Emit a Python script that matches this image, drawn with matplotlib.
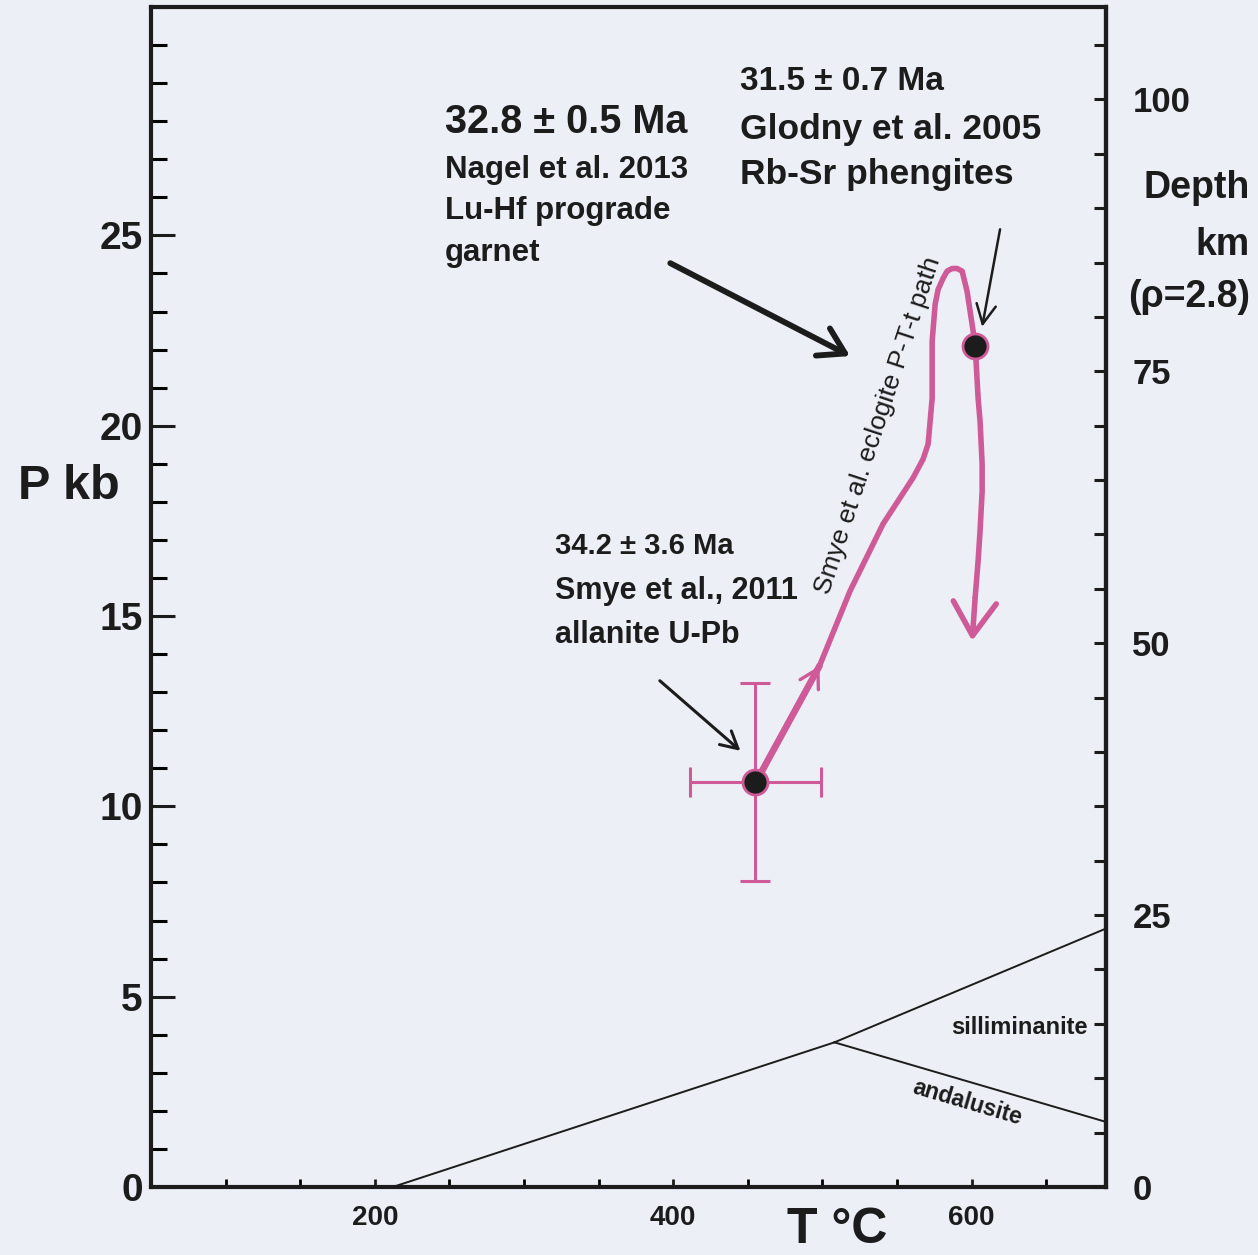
import matplotlib
matplotlib.use("Agg")
import matplotlib.pyplot as plt
from matplotlib.ticker import MultipleLocator, FixedLocator

plt.rcParams["font.family"] = ["Liberation Sans", "DejaVu Sans"]

BG = "#ECEFF6"
PINK = "#CF5A98"
INK = "#1C1C1C"

# Smye et al. eclogite P-T-t path (T in degC, P in kb)
path_T = [456, 498, 518.5, 540.6, 560.7, 567.4, 570.8, 573.5, 573.5, 575.5, 577.5, 580.8,
          583.5, 586.9, 590.2, 593.6, 596.9, 602.3, 604.3, 605.6, 607.0, 607.0, 605.6,
          604.3, 602.3, 600.3]
path_P = [10.68, 13.69, 15.66, 17.42, 18.63, 19.12, 19.52, 20.72, 22.22, 23.19, 23.58, 23.87,
          24.06, 24.13, 24.13, 24.06, 23.53, 22.14, 20.72, 20.12, 18.99, 18.28, 17.24,
          16.45, 15.48, 14.35]

# dated points
allanite_T, allanite_P = 455, 10.65
allanite_Terr, allanite_Perr = 44, 2.6
phengite_T, phengite_P = 602, 22.1

# Al2SiO5 triple point diagram
ky_and_T = [212, 508]
ky_and_P = [0.0, 3.8]
ky_sil_T = [508, 690]
ky_sil_P = [3.8, 6.79]
and_sil_T = [508, 690]
and_sil_P = [3.8, 1.71]

KM_PER_KB = 3.50  # depth conversion, rho = 2.8

fig = plt.figure(figsize=(12.58, 12.55), dpi=100, facecolor=BG)
ax = fig.add_axes([151 / 1258, 1 - 1187 / 1255, 955 / 1258, 1180 / 1255])
ax.set_facecolor(BG)
ax.set_xlim(50, 690)
ax.set_ylim(0, 31)

for sp in ax.spines.values():
    sp.set_linewidth(3)
    sp.set_color(INK)

# phase boundaries
for tt, pp in [(ky_and_T, ky_and_P), (ky_sil_T, ky_sil_P), (and_sil_T, and_sil_P)]:
    ax.plot(tt, pp, color=INK, lw=1.4, zorder=2)

ax.text(632, 4.2, "silliminanite", fontsize=17, fontweight="bold", color=INK,
        ha="center", va="center")
ax.text(597, 2.22, "andalusite", fontsize=16.5, fontweight="bold", color=INK,
        ha="center", va="center", rotation=-16.4, rotation_mode="anchor")

# error bars
ax.errorbar(allanite_T, allanite_P, xerr=allanite_Terr, yerr=allanite_Perr, fmt="none",
            ecolor=PINK, elinewidth=2.2, capsize=11, capthick=2.2, zorder=3)

# path
ax.plot(path_T[:-1], path_P[:-1], color=PINK, lw=4, solid_capstyle="round",
        solid_joinstyle="round", zorder=4)
ax.annotate("", xy=(path_T[1], path_P[1]), xytext=(path_T[0], path_P[0]),
            arrowprops=dict(arrowstyle="->,head_length=1.3,head_width=0.75", color=PINK,
                            lw=2.4, shrinkA=0, shrinkB=0, mutation_scale=10), zorder=4)
ax.plot(path_T[:2], path_P[:2], color=PINK, lw=4.8, solid_capstyle="round", zorder=4)
ax.annotate("", xy=(path_T[-1], path_P[-1]), xytext=(path_T[-2], path_P[-2]),
            arrowprops=dict(arrowstyle="->,head_length=2.4,head_width=1.55", color=PINK,
                            lw=4, shrinkA=0, shrinkB=0, mutation_scale=10), zorder=4)

ax.plot([allanite_T, phengite_T], [allanite_P, phengite_P], "o", ms=18, mfc=INK,
        mec=PINK, mew=2, ls="none", zorder=6)

ax.text(537, 20.0, "Smye et al. eclogite P-T-t path", fontsize=19, color=INK,
        rotation=71.7, rotation_mode="anchor", ha="center", va="center")

# annotations
ax.text(247, 27.70, "32.8 \u00b1 0.5 Ma", fontsize=28.5, fontweight="bold", color=INK)
for txt, yy in [("Nagel et al. 2013", 26.52), ("Lu-Hf prograde", 25.42), ("garnet", 24.32)]:
    ax.text(247, yy, txt, fontsize=22.5, fontweight="bold", color=INK)

ax.text(445, 28.83, "31.5 \u00b1 0.7 Ma", fontsize=24, fontweight="bold", color=INK)
for txt, yy in [("Glodny et al. 2005", 27.54), ("Rb-Sr phengites", 26.34)]:
    ax.text(445, yy, txt, fontsize=25.5, fontweight="bold", color=INK)

ax.text(321, 16.63, "34.2 \u00b1 3.6 Ma", fontsize=21, fontweight="bold", color=INK)
for txt, yy in [("Smye et al., 2011", 15.45), ("allanite U-Pb", 14.30)]:
    ax.text(321, yy, txt, fontsize=22, fontweight="bold", color=INK)

ax.annotate("", xy=(518.5, 21.83), xytext=(398, 24.27),
            arrowprops=dict(arrowstyle="->,head_length=1.8,head_width=1.1", color=INK,
                            lw=4.2, shrinkA=0, shrinkB=0, mutation_scale=10), zorder=7)
ax.annotate("", xy=(607, 22.6), xytext=(619, 25.16),
            arrowprops=dict(arrowstyle="->,head_length=1.4,head_width=0.7", color=INK,
                            lw=1.8, shrinkA=0, shrinkB=0, mutation_scale=10), zorder=7)
ax.annotate("", xy=(445, 11.46), xytext=(391, 13.3),
            arrowprops=dict(arrowstyle="->,head_length=1.2,head_width=0.65", color=INK,
                            lw=2.2, shrinkA=0, shrinkB=0, mutation_scale=10), zorder=7)

# ticks
ax.yaxis.set_major_locator(FixedLocator([0, 5, 10, 15, 20, 25]))
ax.yaxis.set_minor_locator(MultipleLocator(1))
ax.xaxis.set_major_locator(FixedLocator([200, 400, 600]))
ax.xaxis.set_minor_locator(MultipleLocator(50))
ax.tick_params(axis="y", which="major", direction="in", length=17, width=2.2, pad=6,
               labelsize=28, colors=INK, right=False)
ax.tick_params(axis="y", which="minor", direction="in", length=11.5, width=2.2, right=False)
ax.tick_params(axis="x", which="both", direction="in", length=6, width=2, top=False)
ax.tick_params(axis="x", which="major", pad=13, labelsize=20, colors=INK)
for lab in ax.get_xticklabels() + ax.get_yticklabels():
    lab.set_fontweight("bold")

sec = ax.secondary_yaxis("right", functions=(lambda p: p * KM_PER_KB, lambda d: d / KM_PER_KB))
sec.spines["right"].set_linewidth(3)
sec.spines["right"].set_color(INK)
sec.yaxis.set_major_locator(FixedLocator([0, 25, 50, 75, 100]))
sec.yaxis.set_minor_locator(MultipleLocator(5))
sec.tick_params(axis="y", which="both", direction="in", length=8.5, width=2.2, colors=INK)
sec.tick_params(axis="y", which="major", pad=19, labelsize=25)
for lab in sec.get_yticklabels():
    lab.set_fontweight("bold")

# axis titles
fig.text(69 / 1258, 1 - 487 / 1255, "P kb", fontsize=35, fontweight="bold", color=INK,
         ha="center", va="center")
fig.text(837 / 1258, 1 - 1243 / 1255, "T \u00b0C", fontsize=36, fontweight="bold", color=INK,
         ha="center", va="baseline")
fig.text(1250 / 1258, 1 - 198 / 1255, "Depth", fontsize=27, fontweight="bold", color=INK,
         ha="right", va="baseline")
fig.text(1250 / 1258, 1 - 255 / 1255, "km", fontsize=27, fontweight="bold", color=INK,
         ha="right", va="baseline")
fig.text(1250 / 1258, 1 - 307 / 1255, "(\u03c1=2.8)", fontsize=27, fontweight="bold",
         color=INK, ha="right", va="baseline")

fig.savefig("out.png", dpi=100, facecolor=BG)
